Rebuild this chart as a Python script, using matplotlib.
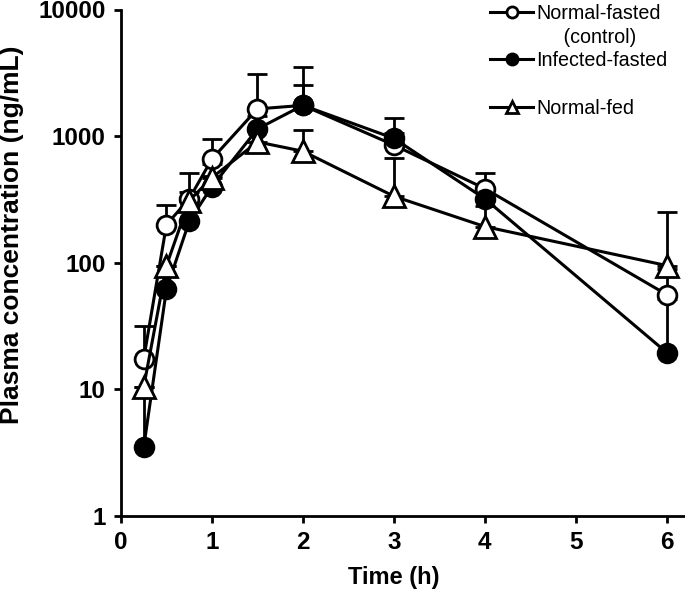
"""
Plasma concentration-time profiles (semi-log) for three groups.
"""

import numpy as np
import matplotlib
matplotlib.use('Agg')
import matplotlib.pyplot as plt
from matplotlib.lines import Line2D

# ----------------------------------------------------------------------------
# Data
# ----------------------------------------------------------------------------
times = [0.25, 0.5, 0.75, 1, 1.5, 2, 3, 4, 6]

normal_fasted = [17.5, 200, 320, 660, 1640, 1750, 850, 385, 56]
normal_fasted_top = [31.5, 285, 360, 955, 3090, 2530, 1400, 510, 90]

infected_fasted = [3.5, 62, 212, 400, 1140, 1750, 960, 320, 19.5]
infected_fasted_top = [9, 80, 260, 480, 1450, 3490, 1050, 400, 52]

normal_fed = [10.5, 95, 310, 470, 900, 760, 335, 193, 95]
normal_fed_top = [10.5, 95, 510, 600, 1100, 1115, 676, 280, 251]

x_ticks = [0, 1, 2, 3, 4, 5, 6]
y_ticks = [1, 10, 100, 1000, 10000]

plt.rcParams['font.family'] = ['Liberation Sans', 'DejaVu Sans']

LW = 2.2


def draw_series(ax, y, top, marker, face):
    y = np.asarray(y, dtype=float)
    up = np.asarray(top, dtype=float) - y
    eb = ax.errorbar(times, y, yerr=[np.zeros_like(up), up], color='black',
                     linewidth=LW, elinewidth=2.0, capsize=7, capthick=2.2,
                     marker=marker, markersize=16 if marker == '^' else 13.5,
                     markerfacecolor=face, markeredgecolor='black',
                     markeredgewidth=2.0)
    # markers above every error bar, so short bars hide under the symbols
    eb[0].set_zorder(4)
    for c in eb[1]:
        c.set_zorder(2)
    for b in eb[2]:
        b.set_zorder(2)


fig = plt.figure(figsize=(6.85, 5.91), dpi=100)
ax = fig.add_axes([121 / 685, 1 - 516 / 591, 1 - 121 / 685, (516 - 9.5) / 591])

draw_series(ax, normal_fasted, normal_fasted_top, 'o', 'white')
draw_series(ax, infected_fasted, infected_fasted_top, 'o', 'black')
draw_series(ax, normal_fed, normal_fed_top, '^', 'white')

ax.set_yscale('log')
ax.set_ylim(1, 10000)
ax.set_xlim(0, 6.2)
ax.set_xticks(x_ticks)
ax.set_yticks(y_ticks)
ax.set_yticklabels([str(v) for v in y_ticks])
ax.yaxis.set_minor_locator(matplotlib.ticker.NullLocator())

for s in ['top', 'right']:
    ax.spines[s].set_visible(False)
for s in ['left', 'bottom']:
    ax.spines[s].set_linewidth(2.0)
ax.tick_params(axis='both', which='major', direction='out', length=5,
               width=2.0, pad=6)
for lab in ax.get_xticklabels() + ax.get_yticklabels():
    lab.set_fontweight('bold')
    lab.set_fontsize(17.5)

ax.set_xlabel('Time (h)', fontsize=17, fontweight='bold')
ax.xaxis.label.set_va('center')
ax.xaxis.set_label_coords((394 - 121) / 564, -0.122)
ax.set_ylabel('Plasma concentration (ng/mL)', fontsize=19, fontweight='bold')
ax.yaxis.label.set_va('center')
ax.yaxis.label.set_ha('center')
ax.yaxis.set_label_coords(-0.193, 0.555)

# legend: one row per text line, with a blank row before Normal-fed
blank = Line2D([], [], color='none')
h_open = Line2D([], [], color='black', lw=LW, marker='o', markersize=8,
                markerfacecolor='white', markeredgewidth=2)
h_fill = Line2D([], [], color='black', lw=LW, marker='o', markersize=8,
                markerfacecolor='black', markeredgewidth=2)
h_tri = Line2D([], [], color='black', lw=LW, marker='^', markersize=8,
               markerfacecolor='white', markeredgewidth=2)
ax.legend([h_open, blank, h_fill, blank, h_tri],
          ['Normal-fasted', '     (control)', 'Infected-fasted', ' ', 'Normal-fed'],
          loc='upper left', bbox_to_anchor=((490 - 121) / 564, 1.011),
          frameon=False, fontsize=14.2, handlelength=2.2, handletextpad=0.15,
          labelspacing=0.24, borderpad=0, borderaxespad=0)

fig.savefig('out.png', dpi=100)
